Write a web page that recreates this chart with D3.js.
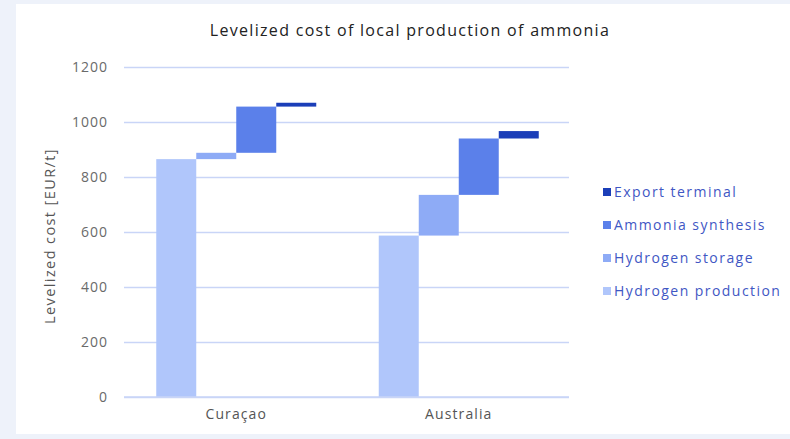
<!DOCTYPE html>
<html><head><meta charset="utf-8">
<script src="https://cdn.jsdelivr.net/npm/d3@7"></script>
<style>
html,body{margin:0;padding:0;background:#eef2fa;}
svg{display:block;}
</style></head>
<body>
<svg id="chart" width="790" height="439"></svg>
<script>
const categories = ["Curaçao", "Australia"];
const seriesNames = ["Hydrogen production", "Hydrogen storage", "Ammonia synthesis", "Export terminal"];
const hydrogenProduction = [865, 587];
const hydrogenStorage = [23, 148];
const ammoniaSynthesis = [168, 205];
const exportTerminal = [14, 27];
const yTicks = [0, 200, 400, 600, 800, 1000, 1200];
const colors = ["#b0c6fb", "#8eabf6", "#5b80ea", "#1b3eb8"];

const svg = d3.select("#chart");
const font = "'Open Sans', sans-serif";

// panel
svg.append("rect").attr("x", 16).attr("y", 4).attr("width", 790 - 16).attr("height", 430).attr("fill", "#ffffff");

const x0 = 124, x1 = 569, yTop = 67, yBot = 397;
const y = d3.scaleLinear().domain([0, 1200]).range([yBot, yTop]);
const xb = d3.scaleBand().domain(categories).range([x0, x1]).paddingInner(0).paddingOuter(0);
const xs = d3.scaleBand().domain(seriesNames).range([0, 160]).padding(0);

// gridlines
const yAxis = d3.axisLeft(y).tickValues(yTicks).tickFormat(d3.format("d")).tickSize(-(x1 - x0)).tickPadding(16);
const gy = svg.append("g").attr("transform", `translate(${x0},0)`).call(yAxis);
gy.select(".domain").remove();
gy.selectAll(".tick line").attr("stroke", "#c9d5f7").attr("stroke-width", 1.3);
gy.selectAll(".tick text").attr("font-family", font).attr("font-size", 14).attr("letter-spacing", 1).attr("fill", "#6a6a6a");

// x axis labels
const xAxis = d3.axisBottom(xb).tickSize(0).tickPadding(12);
const gx = svg.append("g").attr("transform", `translate(1,${yBot})`).call(xAxis);
gx.select(".domain").remove();
gx.selectAll(".tick text").attr("font-family", font).attr("font-size", 14).attr("letter-spacing", 1.1).attr("fill", "#555");

// waterfall bars
const series = [hydrogenProduction, hydrogenStorage, ammoniaSynthesis, exportTerminal];
categories.forEach((c, ci) => {
  let base = 0;
  const groupStart = xb(c) + (xb.bandwidth() - 160) / 2 + 1;
  series.forEach((s, si) => {
    const v = s[ci];
    svg.append("rect")
      .attr("x", groupStart + xs(seriesNames[si]))
      .attr("width", xs.bandwidth())
      .attr("y", y(base + v))
      .attr("height", y(base) - y(base + v))
      .attr("fill", colors[si]);
    base += v;
  });
});

// baseline redraw
svg.append("line").attr("x1", x0).attr("x2", x1).attr("y1", yBot).attr("y2", yBot)
  .attr("stroke", "#c9d5f7").attr("stroke-width", 1.3);

// title
svg.append("text").attr("x", 410).attr("y", 36).attr("text-anchor", "middle")
  .attr("font-family", font).attr("font-size", 16).attr("letter-spacing", 1.3).attr("fill", "#222")
  .text("Levelized cost of local production of ammonia");

// y axis title
svg.append("text").attr("transform", "translate(55,236) rotate(-90)").attr("text-anchor", "middle")
  .attr("font-family", font).attr("font-size", 14.5).attr("letter-spacing", 1.4).attr("fill", "#555")
  .text("Levelized cost [EUR/t]");

// legend (reverse order)
const legendOrder = [3, 2, 1, 0];
legendOrder.forEach((si, i) => {
  const ly = 192 + i * 33;
  svg.append("rect").attr("x", 603).attr("y", ly - 4).attr("width", 8).attr("height", 8).attr("fill", colors[si]);
  svg.append("text").attr("x", 614).attr("y", ly).attr("dy", "0.35em")
    .attr("font-family", font).attr("font-size", 14).attr("letter-spacing", 1.45).attr("fill", "#3f57c4")
    .text(seriesNames[si]);
});
</script>
</body></html>
